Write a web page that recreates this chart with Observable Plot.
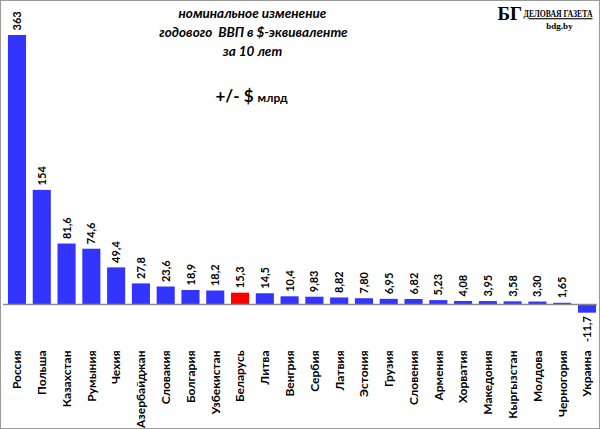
<!DOCTYPE html>
<html><head><meta charset="utf-8">
<script src="https://cdn.jsdelivr.net/npm/d3@7"></script>
<script src="https://cdn.jsdelivr.net/npm/@observablehq/plot@0.6"></script>
<style>
body{margin:0;background:#fff}
#chart svg{display:block;outline:1.5px solid #9a9a9a;outline-offset:-1.5px}
</style>
</head><body><div id="chart"></div>
<script>
const countries = ["Россия","Польша","Казахстан","Румыния","Чехия","Азербайджан","Словакия","Болгария","Узбекистан","Беларусь","Литва","Венгрия","Сербия","Латвия","Эстония","Грузия","Словения","Армения","Хорватия","Македония","Кыргызстан","Молдова","Черногория","Украина"];
const values = [363,154,81.6,74.6,49.4,27.8,23.6,18.9,18.2,15.3,14.5,10.4,9.83,8.82,7.80,6.95,6.82,5.23,4.08,3.95,3.58,3.30,1.65,-11.7];
const valueLabels = ["363","154","81,6","74,6","49,4","27,8","23,6","18,9","18,2","15,3","14,5","10,4","9,83","8,82","7,80","6,95","6,82","5,23","4,08","3,95","3,58","3,30","1,65","-11,7"];
const highlight = "Беларусь";
const titleLines = ["номинальное изменение","годового  ВВП в $-эквиваленте","за 10 лет"];
const unitLabel = "+/- $ млрд";
const logoMark = "БГ";
const logoName = "ДЕЛОВАЯ ГАЗЕТА";
const logoSite = "bdg.by";

const data = countries.map((c,i)=>({country:c, value:values[i], label:valueLabels[i], color: c===highlight ? "#ff0000" : "#3434ff"}));

const titleStyle = {frameAnchor:"top-left", lineAnchor:"middle", fontStyle:"italic", fontWeight:"bold", fontSize:13.5, textAnchor:"middle"};

const plot = Plot.plot({
  width:600, height:429,
  marginTop:0, marginLeft:3, marginRight:3, marginBottom:82,
  style:{fontFamily:"Lato, sans-serif", background:"#fff", color:"#000"},
  x:{domain:countries, range:[4.6,599.4], paddingInner:0.27, paddingOuter:0.135, round:false, axis:null},
  y:{domain:[0,363], range:[304,35], axis:null},
  color:{type:"identity"},
  marks:[
    Plot.barY(data,{x:"country", y:"value", fill:"color"}),
    Plot.ruleY([0],{stroke:"#8a8a8a", strokeWidth:1.5}),
    Plot.text(data.filter(d=>d.value>=0),{x:"country", y:"value", text:"label", rotate:-90, textAnchor:"start", dy:-5, fontWeight:"bold", fontSize:11, fill:"#000"}),
    Plot.text(data.filter(d=>d.value<0),{x:"country", y:"value", text:"label", rotate:-90, textAnchor:"end", dy:3, fontWeight:"bold", fontSize:11, fill:"#000"}),
    Plot.axisX({tickRotate:-90, tickSize:0, tickPadding:3, label:null, textAnchor:"end", fontSize:12, fontWeight:"bold", fill:"#000"}),
    Plot.text([titleLines[0]],{...titleStyle, dx:249, dy:13}),
    Plot.text([titleLines[1]],{...titleStyle, dx:250, dy:32}),
    Plot.text([titleLines[2]],{...titleStyle, dx:249, dy:51}),
    Plot.text([unitLabel],{frameAnchor:"top-left", lineAnchor:"middle", textAnchor:"middle", fontWeight:"bold", fontSize:17, dx:248, dy:96}),
    Plot.text([logoMark],{frameAnchor:"top-left", lineAnchor:"middle", textAnchor:"start", fontFamily:"'Liberation Serif', serif", fontWeight:"bold", fontSize:19, dx:494, dy:13}),
    Plot.text([logoName],{frameAnchor:"top-left", lineAnchor:"middle", textAnchor:"start", fontFamily:"'Liberation Serif', serif", fontWeight:"bold", fontSize:11, dx:521, dy:13}),
    Plot.text([logoSite],{frameAnchor:"top-left", lineAnchor:"middle", textAnchor:"middle", fontFamily:"'Liberation Serif', serif", fontWeight:"bold", fontSize:9, dx:556, dy:25.5})
  ]
});

document.getElementById("chart").appendChild(plot);
const sel = d3.select(plot);
sel.selectAll("text").filter(function(){return this.textContent===unitLabel;})
  .html("+/- $ <tspan font-size='12'>млрд</tspan>");

// squeeze the logo name horizontally to the condensed look of the original
function squeeze(content, targetWidth) {
  sel.selectAll("text").filter(function(){return this.textContent===content;}).each(function(){
    const bb = this.getBBox();
    const s = targetWidth / bb.width;
    const g = document.createElementNS("http://www.w3.org/2000/svg","g");
    this.parentNode.insertBefore(g, this);
    g.appendChild(this);
    const x0 = bb.x;
    g.setAttribute("transform", `translate(${x0},0) scale(${s},1) translate(${-x0},0)`);
  });
}
squeeze(logoName, 69);
sel.selectAll("text").filter(function(){return this.textContent===logoName;}).style("text-decoration","underline");
</script>
</body></html>
